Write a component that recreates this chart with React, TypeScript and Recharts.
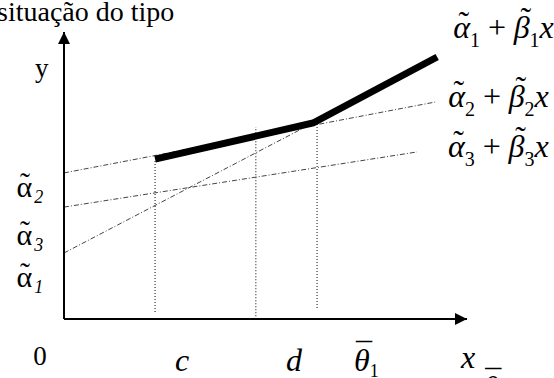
import React from 'react';
import { LineChart, Line, XAxis, YAxis } from 'recharts';

// bold fitted segments (piecewise model)
const thickX = [2.26, 6.18, 9.26];
const thickY = [5.57, 6.83, 9.13];

// the three candidate regression lines
const line1X = [0, 6.18];
const line1Y = [2.3, 6.83];
const line2X = [0, 9.21];
const line2Y = [5.09, 7.56];
const line3X = [0, 8.76];
const line3Y = [3.9, 5.82];

// dotted guides dropped to the x axis
const guideX = [2.26, 4.76, 6.28];
const guideTop = [5.57, 6.69, 6.83];
const guideBottom = [0.24, 0.1, 0.38];

// axis labels
const xTickValues = [0, 2.93, 5.71, 7.47, 10];
const xTickLabels = ['0', 'c', 'd', 'θ', 'x'];
const xTickSubs = ['', '', '', '1', 'θ'];
const yTickValues = [1.36, 2.82, 4.49, 8.64];
const yTickLabels = ['α', 'α', 'α', 'y'];
const yTickSubs = ['1', '3', '2', ''];

const formulaSubs = ['1', '2', '3'];

const FONT = 'Liberation Serif';

const toPoints = (xs: number[], ys: number[]) => xs.map((x, i) => ({ x, y: ys[i] }));

const thickData = toPoints(thickX, thickY);
const line1Data = toPoints(line1X, line1Y);
const line2Data = toPoints(line2X, line2Y);
const line3Data = toPoints(line3X, line3Y);
const guides = guideX.map((x, i) => [
  { x, y: guideBottom[i] },
  { x, y: guideTop[i] },
]);

// accent first, then the letter pulled back under it; w = letter width, aw = accent width
const accented = (ch: string, acc: string, w: number, aw: number, lift: number, italic: boolean,
  shift = 0, preDx = 0, preDy = 0) => {
  const ax = w / 2 - aw / 2 + shift;
  return [
    <tspan key="a" fontStyle="normal" dx={preDx + ax} dy={preDy - lift}>{acc}</tspan>,
    <tspan key="b" fontStyle={italic ? 'italic' : 'normal'} dx={-(ax + aw)} dy={lift}>{ch}</tspan>,
  ];
};

const XTick = (props: any) => {
  const { x, y, payload } = props;
  const i = xTickValues.indexOf(payload.value);
  if (i < 0) return null;
  const label = xTickLabels[i];
  const sub = xTickSubs[i];
  if (label === '0') {
    return (
      <text x={x - 24} y={y + 46} textAnchor="middle" fontFamily={FONT} fontSize={27} fill="#000">
        0
      </text>
    );
  }
  if (label === 'θ') {
    return (
      <text x={x - 13} y={y + 52} fontFamily={FONT} fontSize={32} fill="#000">
        {accented('θ', '¯', 16, 16, 6, true, 2)}
        <tspan fontSize={18} dy={6}>{sub}</tspan>
      </text>
    );
  }
  if (label === 'x') {
    return (
      <text x={x - 6} y={y + 49} fontFamily={FONT} fontSize={32} fill="#000">
        <tspan fontStyle="italic">x</tspan>
        {accented(sub, '¯', 16, 16, 6, true, 2, 8, 30)}
      </text>
    );
  }
  return (
    <text x={x} y={y + 52} textAnchor="middle" fontFamily={FONT} fontSize={32} fontStyle="italic" fill="#000">
      {label}
    </text>
  );
};

const YTick = (props: any) => {
  const { x, y, payload } = props;
  const i = yTickValues.indexOf(payload.value);
  if (i < 0) return null;
  const label = yTickLabels[i];
  const sub = yTickSubs[i];
  if (label === 'y') {
    return (
      <text x={x - 29} y={y + 6} textAnchor="start" fontFamily={FONT} fontSize={27} fill="#000">
        y
      </text>
    );
  }
  return (
    <text x={x - 51} y={y + 7} textAnchor="start" fontFamily={FONT} fontSize={30} fill="#000">
      {accented(label, '˜', 17, 10, 4, false)}
      <tspan fontStyle="italic" fontSize={18} dy={6} dx={2}>{sub}</tspan>
    </text>
  );
};

const makeFormulaLabel = (n: number, count: number, dx: number, dy: number) => (props: any) => {
  const { x, y, index } = props;
  if (index !== count - 1) return null;
  const s = formulaSubs[n];
  return (
    <text key={`f${n}`} x={x + dx} y={y + dy} fontFamily={FONT} fontSize={32} fill="#000">
      {accented('α', '˜', 17, 11, 5, true, 2)}
      <tspan fontSize={20} dy={9}>{s}</tspan>
      <tspan dy={-9}>{'\u00a0+\u00a0'}</tspan>
      {accented('β', '˜', 16, 11, 9, true, 4)}
      <tspan fontSize={20} dy={9}>{s}</tspan>
      <tspan fontStyle="italic" dy={-9}>x</tspan>
    </text>
  );
};

export default function App() {
  return (
    <div className="fig" style={{ position: 'absolute', left: 0, top: 0, width: 554, height: 378, background: '#fff' }}>
      <style>{'.fig text, .fig tspan { font-family: "Liberation Serif" !important; }'}</style>
      <LineChart width={554} height={378} margin={{ top: 32, right: 87, bottom: 0, left: 0 }}
        style={{ fontFamily: FONT }}>
        <defs>
          <marker id="arrowHead" viewBox="0 0 12 12" refX="12" refY="6" markerWidth="12" markerHeight="12"
            markerUnits="userSpaceOnUse" orient="auto-start-reverse">
            <path d="M0,0 L12,6 L0,12 z" fill="#000" />
          </marker>
        </defs>
        <text x={-3} y={21} fontFamily={FONT} fontSize={28} fill="#000">situação do tipo</text>
        <XAxis type="number" dataKey="x" domain={[0, 10]} ticks={xTickValues} interval={0}
          height={59} tickSize={0} tickMargin={0} tickLine={false} tick={<XTick />}
          axisLine={{ stroke: '#000', strokeWidth: 2, markerEnd: 'url(#arrowHead)' }} />
        <YAxis type="number" dataKey="y" domain={[0, 10]} ticks={yTickValues} interval={0}
          width={64} tickSize={0} tickMargin={0} tickLine={false} tick={<YTick />}
          axisLine={{ stroke: '#000', strokeWidth: 2, markerStart: 'url(#arrowHead)' }} />
        {guides.map((g, i) => (
          <Line key={`g${i}`} data={g} dataKey="y" stroke="#333" strokeWidth={1.2}
            strokeDasharray="1 2" dot={false} activeDot={false} isAnimationActive={false} />
        ))}
        <Line data={line1Data} dataKey="y" stroke="#444" strokeWidth={1} strokeDasharray="5 2 1 2"
          dot={false} activeDot={false} isAnimationActive={false} />
        <Line data={line2Data} dataKey="y" stroke="#444" strokeWidth={1} strokeDasharray="5 2 1 2"
          dot={false} activeDot={false} isAnimationActive={false}
          label={makeFormulaLabel(1, line2Data.length, 8, 5)} />
        <Line data={line3Data} dataKey="y" stroke="#444" strokeWidth={1} strokeDasharray="5 2 1 2"
          dot={false} activeDot={false} isAnimationActive={false}
          label={makeFormulaLabel(2, line3Data.length, 26, 5)} />
        <Line data={thickData} dataKey="y" stroke="#000" strokeWidth={7} type="linear"
          dot={false} activeDot={false} isAnimationActive={false}
          label={makeFormulaLabel(0, thickData.length, 11, -19)} />
      </LineChart>
    </div>
  );
}
